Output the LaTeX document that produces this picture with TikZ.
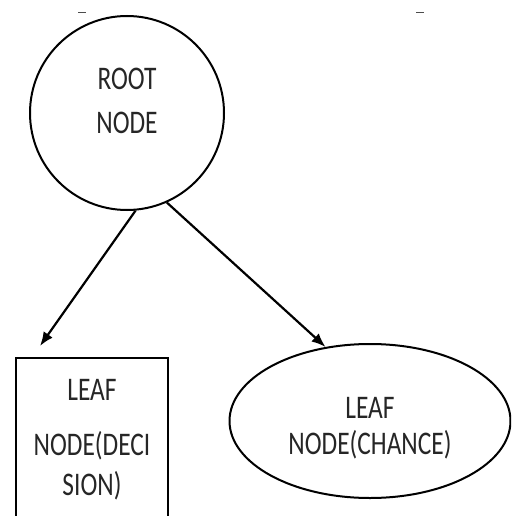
\documentclass[tikz,border=0pt]{standalone}
\usepackage{fontspec}
\setmainfont{Carlito}[FakeStretch=0.77]
\usetikzlibrary{arrows.meta,shapes.geometric}

\begin{document}
\begin{tikzpicture}[x=1pt,y=-1pt]
\tikzset{rootnode/.style = {shape=circle,draw,line width=2pt,minimum size=194pt,inner sep=0pt}}
\tikzset{chancenode/.style = {shape=ellipse,draw,line width=2pt,minimum width=281pt,minimum height=154pt,inner sep=0pt}}
\tikzset{decisionnode/.style = {shape=rectangle,draw,line width=1.8pt,minimum width=152pt,minimum height=200pt,inner sep=0pt}}
\tikzset{nodetext/.style = {align=center,text=black!85,font=\fontsize{33}{44}\selectfont}}
\tikzset{edge/.style = {->,> = {Latex[length=14pt,width=11pt]},line width=2.2pt}}
\useasboundingbox (0,0) rectangle (511,516);
\clip (0,0) rectangle (511,516);
% vertices
\node[rootnode,label={[nodetext,yshift=12pt]center:{ROOT\\NODE}}] (root) at (127,113) {};
\node[decisionnode,label={[nodetext,yshift=18pt]center:{LEAF\\[11pt]NODE(DECI\\[-4pt]SION)}}] (decision) at (92,458) {};
\node[chancenode,label={[nodetext,yshift=-7pt]center:{LEAF\\[-8pt]NODE(CHANCE)}}] (chance) at (370,421) {};
\coordinate (dectip) at (40,346);
% edges
\draw[edge] (root.-85) -- (dectip);
\draw[edge] (root.-66) -- (chance.121);
% stray marks at the top
\draw[line width=1pt,black!70] (78,13) -- (86,13);
\draw[line width=1pt,black!70] (416,13) -- (424,13);
\end{tikzpicture}
\end{document}
